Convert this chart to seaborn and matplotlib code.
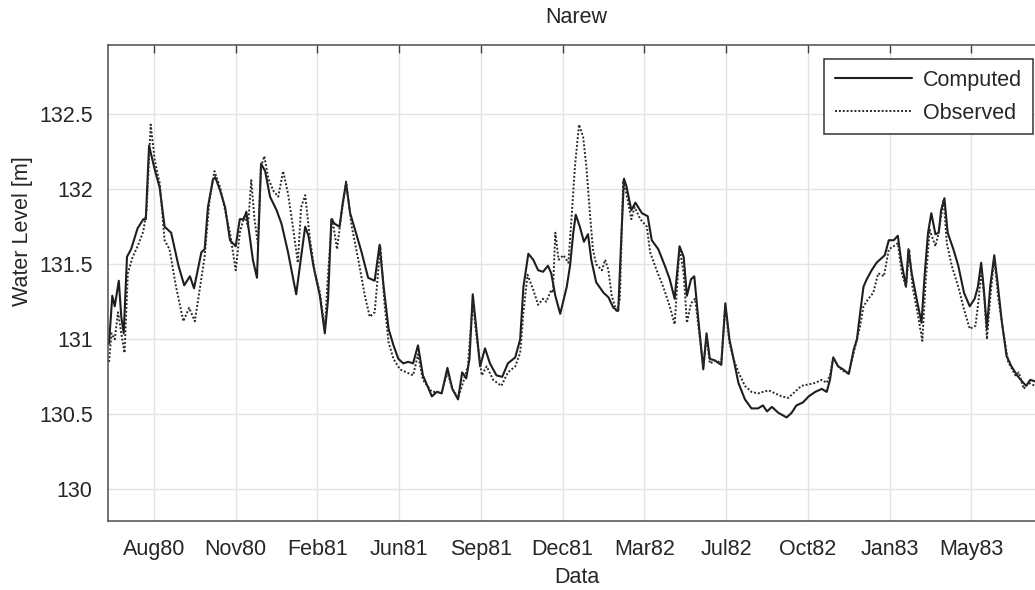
"""
plotNarew.py

Water level at the Narew gauge - computed vs observed series (Jun 1980 - Jul 1983)
Output: out.png
"""

import numpy as np
import pandas as pd
import matplotlib
matplotlib.use('Agg')
import matplotlib.pyplot as plt
import matplotlib.dates as mdates
from matplotlib.ticker import FuncFormatter
import seaborn as sns

# Reference date for the day offsets below (first x tick, Aug80)
refDate = pd.Timestamp('1980-08-07')

# Computed water level [m] - day offset from refDate and value
compDays = [-55, -51, -48, -43, -40, -37, -33, -28, -20, -13, -10, -6, 1, 7, 13, 21, 30, 37, 44, 49,
            58, 62, 66, 72, 75, 81, 87, 93, 100, 105, 110, 113, 116, 121, 126, 131, 136, 142, 150, 156,
            164, 174, 180, 185, 189, 195, 203, 209, 213, 217, 221, 227, 231, 235, 240, 246, 254, 262, 270, 276,
            281, 287, 293, 299, 305, 311, 317, 323, 329, 340, 346, 352, 359, 365, 372, 377, 382, 386, 390, 394,
            399, 405, 411, 419, 426, 433, 442, 448, 452, 458, 464, 470, 476, 482, 486, 491, 497, 505, 509, 513,
            516, 521, 526, 531, 535, 541, 550, 556, 562, 568, 572, 575, 578, 584, 589, 597, 604, 609, 617, 625,
            631, 637, 643, 648, 652, 657, 661, 666, 672, 676, 680, 686, 694, 699, 704, 709, 715, 723, 731, 739,
            745, 750, 756, 764, 774, 780, 786, 794, 801, 809, 817, 823, 827, 831, 837, 843, 850, 856, 860, 864,
            868, 872, 878, 884, 890, 894, 899, 905, 910, 914, 920, 923, 927, 933, 939, 943, 947, 951, 956, 960,
            963, 967, 971, 978, 984, 991, 998, 1004, 1008, 1012, 1015, 1019, 1023, 1028, 1032, 1037, 1043, 1049, 1056, 1062,
            1067, 1072, 1078]
compLevel = [130.97, 131.29, 131.22, 131.39, 131.15, 131.04, 131.55, 131.60, 131.74, 131.80, 131.80, 132.29, 132.13, 132.01, 131.75, 131.71, 131.49, 131.36, 131.42, 131.34,
             131.58, 131.60, 131.88, 132.06, 132.08, 131.99, 131.88, 131.66, 131.62, 131.80, 131.80, 131.85, 131.73, 131.53, 131.41, 132.17, 132.12, 131.95, 131.86, 131.77,
             131.58, 131.30, 131.55, 131.75, 131.69, 131.49, 131.29, 131.04, 131.27, 131.80, 131.77, 131.75, 131.91, 132.04, 131.84, 131.73, 131.58, 131.41, 131.39, 131.63,
             131.35, 131.07, 130.96, 130.87, 130.84, 130.85, 130.84, 130.96, 130.76, 130.62, 130.65, 130.64, 130.81, 130.67, 130.60, 130.78, 130.74, 130.87, 131.30, 131.09,
             130.82, 130.94, 130.84, 130.76, 130.75, 130.84, 130.88, 131.00, 131.35, 131.57, 131.53, 131.46, 131.45, 131.49, 131.44, 131.29, 131.17, 131.35, 131.49, 131.71,
             131.83, 131.75, 131.65, 131.70, 131.53, 131.38, 131.31, 131.28, 131.21, 131.19, 131.71, 132.07, 132.02, 131.86, 131.91, 131.84, 131.82, 131.66, 131.60, 131.49,
             131.40, 131.27, 131.62, 131.55, 131.29, 131.40, 131.42, 131.13, 130.80, 131.04, 130.87, 130.86, 130.83, 131.24, 131.00, 130.87, 130.71, 130.60, 130.54, 130.54,
             130.56, 130.52, 130.55, 130.51, 130.48, 130.51, 130.56, 130.58, 130.62, 130.65, 130.67, 130.65, 130.73, 130.88, 130.82, 130.80, 130.77, 130.93, 131.00, 131.18,
             131.35, 131.40, 131.46, 131.51, 131.54, 131.56, 131.66, 131.66, 131.69, 131.53, 131.35, 131.60, 131.44, 131.27, 131.11, 131.44, 131.71, 131.84, 131.70, 131.71,
             131.86, 131.94, 131.71, 131.60, 131.49, 131.31, 131.22, 131.27, 131.35, 131.51, 131.35, 131.07, 131.35, 131.56, 131.38, 131.13, 130.89, 130.82, 130.76, 130.72,
             130.69, 130.73, 130.72]

# Observed water level [m] - day offset from refDate and value
obsDays = [-55, -52, -48, -44, -40, -36, -32, -26, -20, -13, -9, -4, 1, 7, 13, 19, 27, 36, 43, 50,
           62, 68, 74, 81, 87, 93, 100, 105, 111, 115, 119, 123, 127, 131, 135, 140, 146, 152, 158, 164,
           170, 176, 180, 185, 191, 197, 203, 209, 213, 218, 224, 229, 235, 242, 250, 258, 264, 270, 277, 282,
           287, 293, 301, 309, 317, 323, 329, 340, 352, 359, 365, 372, 378, 384, 390, 395, 401, 407, 415, 425,
           433, 442, 448, 452, 457, 464, 470, 476, 480, 486, 488, 491, 495, 501, 507, 511, 515, 520, 525, 529,
           533, 537, 541, 548, 552, 556, 560, 566, 570, 574, 578, 584, 588, 595, 603, 607, 615, 623, 631, 637,
           643, 648, 652, 657, 662, 666, 672, 676, 680, 688, 694, 699, 704, 709, 715, 723, 731, 739, 745, 752,
           760, 768, 776, 784, 792, 801, 809, 817, 823, 827, 831, 837, 843, 850, 856, 860, 864, 868, 874, 880,
           886, 893, 899, 905, 910, 915, 920, 924, 928, 934, 940, 944, 949, 956, 960, 966, 970, 976, 984, 991,
           998, 1005, 1009, 1012, 1016, 1019, 1023, 1028, 1033, 1039, 1045, 1054, 1058, 1064, 1070, 1078]
obsLevel = [130.85, 131.04, 131.00, 131.18, 131.04, 130.91, 131.44, 131.55, 131.62, 131.72, 131.86, 132.43, 132.19, 132.04, 131.66, 131.60, 131.35, 131.12, 131.21, 131.12,
            131.55, 131.93, 132.12, 132.01, 131.86, 131.71, 131.46, 131.71, 131.83, 131.75, 132.06, 131.80, 131.64, 132.15, 132.22, 132.07, 131.99, 131.95, 132.12, 131.97,
            131.75, 131.51, 131.88, 131.96, 131.66, 131.44, 131.31, 131.07, 131.44, 131.81, 131.60, 131.82, 132.05, 131.75, 131.53, 131.29, 131.15, 131.18, 131.62, 131.24,
            130.98, 130.87, 130.80, 130.78, 130.76, 130.90, 130.73, 130.65, 130.65, 130.78, 130.67, 130.61, 130.71, 130.82, 131.25, 131.00, 130.76, 130.82, 130.73, 130.69,
            130.78, 130.82, 130.91, 131.18, 131.43, 131.33, 131.23, 131.27, 131.25, 131.33, 131.31, 131.71, 131.53, 131.56, 131.51, 131.82, 132.15, 132.43, 132.35, 132.15,
            131.86, 131.60, 131.50, 131.46, 131.53, 131.46, 131.29, 131.18, 131.27, 132.06, 131.97, 131.80, 131.88, 131.80, 131.75, 131.58, 131.46, 131.35, 131.22, 131.10,
            131.61, 131.44, 131.11, 131.24, 131.27, 131.09, 130.82, 131.02, 130.84, 130.86, 130.84, 131.22, 130.98, 130.87, 130.78, 130.69, 130.65, 130.64, 130.65, 130.66,
            130.64, 130.62, 130.61, 130.65, 130.69, 130.70, 130.71, 130.73, 130.71, 130.76, 130.88, 130.82, 130.79, 130.77, 130.91, 131.00, 131.09, 131.22, 131.27, 131.31,
            131.44, 131.42, 131.60, 131.62, 131.64, 131.44, 131.35, 131.60, 131.35, 131.18, 130.99, 131.38, 131.73, 131.62, 131.71, 131.93, 131.64, 131.49, 131.35, 131.20,
            131.07, 131.09, 131.27, 131.46, 131.27, 131.00, 131.27, 131.54, 131.27, 131.05, 130.85, 130.76, 130.78, 130.67, 130.71, 130.69]

# x ticks every 100 days from refDate, y ticks every 0.5 m
tickDays = [0, 100, 200, 300, 400, 500, 600, 700, 800, 900, 1000]
yTicks = [130, 130.5, 131, 131.5, 132, 132.5]

titleText = 'Narew'
xLabelText = 'Data'
yLabelText = 'Water Level [m]'
seriesNames = ['Computed', 'Observed']


def main():

    sns.set_style('white')
    plt.rcParams['font.family'] = ['Liberation Sans', 'DejaVu Sans']
    fontSize = 15.5

    # Build dataframes with real dates
    compDF = pd.DataFrame({'Date': refDate + pd.to_timedelta(compDays, unit='D'), 'Level': compLevel})
    obsDF = pd.DataFrame({'Date': refDate + pd.to_timedelta(obsDays, unit='D'), 'Level': obsLevel})

    fig = plt.figure(figsize=(10.35, 5.9), dpi=100)
    ax = fig.add_axes([0.1043, 0.1169, 0.9053, 0.8068])

    sns.lineplot(data=compDF, x='Date', y='Level', ax=ax, color='#1e1e1e', linewidth=1.5,
                 label=seriesNames[0])
    sns.lineplot(data=obsDF, x='Date', y='Level', ax=ax, color='#2a2a2a', linewidth=1.4,
                 linestyle=(0, (1, 1)), label=seriesNames[1])

    # Axis limits (axes run a bit past the right edge of the picture)
    ax.set_xlim(refDate + pd.Timedelta(days=-56.3), refDate + pd.Timedelta(days=1090))
    ax.set_ylim(129.79, 132.96)

    ax.set_xticks([refDate + pd.Timedelta(days=d) for d in tickDays])
    ax.xaxis.set_major_formatter(mdates.DateFormatter('%b%y'))
    ax.set_yticks(yTicks)
    ax.yaxis.set_major_formatter(FuncFormatter(lambda v, p: f'{v:g}'))

    ax.tick_params(direction='in', length=6, width=1, colors='#444444', labelcolor='#262626',
                   labelsize=fontSize, top=True, right=False)
    ax.tick_params(axis='x', pad=13)
    ax.tick_params(axis='y', pad=11)

    ax.grid(True, color='#e3e3e3', linewidth=1)
    for side in ['left', 'bottom', 'top', 'right']:
        ax.spines[side].set_color('#4d4d4d')
        ax.spines[side].set_linewidth(1.1)

    ax.set_title(titleText, fontsize=fontSize, color='#262626', pad=16)
    ax.set_xlabel(xLabelText, fontsize=fontSize, color='#262626', labelpad=5)
    ax.set_ylabel(yLabelText, fontsize=fontSize, color='#262626')
    # label sits a little above the middle of the axis in the original
    ax.yaxis.set_label_coords(-0.08, 0.61)

    leg = ax.legend(loc='upper right', bbox_to_anchor=(0.9872, 0.9706), borderaxespad=0,
                    fontsize=fontSize, handlelength=3.6, handletextpad=0.5, labelspacing=0.55,
                    borderpad=0.5, fancybox=False, framealpha=1, edgecolor='#333333')
    leg.get_frame().set_linewidth(1.1)
    for txt in leg.get_texts():
        txt.set_color('#262626')

    fig.savefig('out.png', dpi=100, facecolor='white')
    plt.close(fig)


if __name__ == '__main__':
    main()
